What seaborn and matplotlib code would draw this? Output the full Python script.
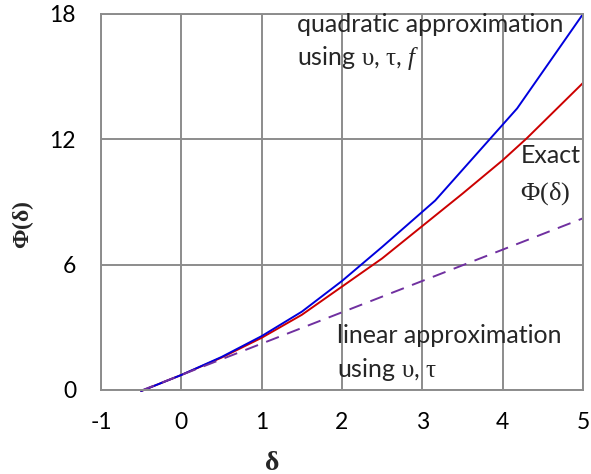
import matplotlib
matplotlib.use("Agg")
import matplotlib.pyplot as plt
import seaborn as sns
import pandas as pd

# ---- data ----
exact_x = [-0.5, 0.0, 0.5, 1.0, 1.5, 2.0, 2.5, 3.0, 3.5, 4.0, 4.3, 5.0]
exact_y = [-0.05, 0.72, 1.55, 2.5, 3.6, 4.95, 6.3, 7.85, 9.4, 11.0, 12.05, 14.7]

quad_x = [-0.5, 0.0, 0.5, 1.0, 1.5, 2.0, 2.5, 3.16, 4.18, 5.0]
quad_y = [-0.05, 0.72, 1.58, 2.58, 3.75, 5.22, 6.85, 9.07, 13.48, 18.0]

lin_x = [-0.5, 5.0]
lin_y = [-0.03, 8.22]

x_ticks = [-1, 0, 1, 2, 3, 4, 5]
y_ticks = [0, 6, 12, 18]

sns.set_style("white")
plt.rcParams["font.family"] = ["Lato", "DejaVu Sans"]
plt.rcParams["axes.unicode_minus"] = False
plt.rcParams["mathtext.fontset"] = "custom"
plt.rcParams["mathtext.rm"] = "Liberation Serif"
plt.rcParams["mathtext.it"] = "Liberation Serif:italic"
plt.rcParams["mathtext.bf"] = "Liberation Serif:bold"

fig = plt.figure(figsize=(5.91, 4.74), dpi=100)
ax = fig.add_axes([101 / 591, 1 - 390 / 474, 482 / 591, 376 / 474])

grid_c = "#8c8c8c"
ax.set_xlim(-1, 5)
ax.set_ylim(0, 18)
ax.set_xticks(x_ticks)
ax.set_yticks(y_ticks)
ax.grid(True, color=grid_c, linewidth=1.4)
ax.set_axisbelow(True)
for s in ax.spines.values():
    s.set_color(grid_c)
    s.set_linewidth(1.4)
ax.tick_params(axis="both", direction="out", length=5, width=1.4, color=grid_c,
               labelsize=16.5, labelcolor="black")
ax.tick_params(axis="x", pad=11)
ax.tick_params(axis="y", pad=13)

df_exact = pd.DataFrame({"x": exact_x, "y": exact_y})
df_quad = pd.DataFrame({"x": quad_x, "y": quad_y})
df_lin = pd.DataFrame({"x": lin_x, "y": lin_y})

sns.lineplot(data=df_exact, x="x", y="y", ax=ax, color="#cc0000", linewidth=1.4,
             sort=False, clip_on=False)
sns.lineplot(data=df_quad, x="x", y="y", ax=ax, color="#0000dd", linewidth=1.4,
             sort=False, clip_on=False)
sns.lineplot(data=df_lin, x="x", y="y", ax=ax, color="#7030a0", linewidth=1.4,
             sort=False, dashes=False, linestyle=(0, (7, 4.5)), clip_on=False)

ax.set_xlabel("")
ax.set_ylabel("")

fs = 18
ax.text(1.44, 17.14, "quadratic approximation", fontsize=fs, va="baseline", ha="left")
ax.text(1.44, 15.56, r"using $\mathrm{\upsilon}$, $\mathrm{\tau}$, $f$", fontsize=fs,
        va="baseline", ha="left")
ax.text(4.22, 10.87, "Exact", fontsize=fs, va="baseline", ha="left")
ax.text(4.21, 9.10, r"$\mathrm{\Phi(\delta)}$", fontsize=19, va="baseline", ha="left")
ax.text(1.94, 2.25, "linear approximation", fontsize=fs, va="baseline", ha="left")
ax.text(1.94, 0.62, r"using $\mathrm{\upsilon}$, $\mathrm{\tau}$", fontsize=fs,
        va="baseline", ha="left")

fig.text(272 / 591, 1 - 462 / 474, r"$\mathbf{\delta}$", fontsize=20,
         ha="center", va="center")
fig.text(23 / 591, 1 - 225 / 474, r"$\mathbf{\Phi(\delta)}$", fontsize=17,
         ha="center", va="center", rotation=90)

fig.savefig("out.png", dpi=100)
